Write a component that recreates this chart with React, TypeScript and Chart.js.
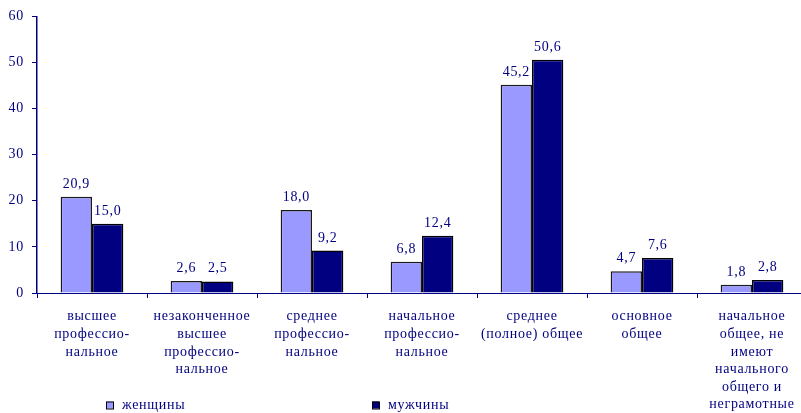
import React, { useEffect, useRef } from "react";
import { Chart, registerables } from "chart.js";

Chart.register(...registerables);

const categories: string[][] = [
  ["высшее", "профессио-", "нальное"],
  ["незаконченное", "высшее", "профессио-", "нальное"],
  ["среднее", "профессио-", "нальное"],
  ["начальное", "профессио-", "нальное"],
  ["среднее", "(полное) общее"],
  ["основное", "общее"],
  ["начальное", "общее, не", "имеют", "начального", "общего и", "неграмотные"],
];
const women: number[] = [20.9, 2.6, 18.0, 6.8, 45.2, 4.7, 1.8];
const men: number[] = [15.0, 2.5, 9.2, 12.4, 50.6, 7.6, 2.8];
const seriesNames: string[] = ["женщины", "мужчины"];
const yTicks: number[] = [0, 10, 20, 30, 40, 50, 60];

const TEXT = "#000080";
const FONT = "'Liberation Serif', 'Times New Roman', serif";
const WOMEN_COLOR = "#9999FF";
const MEN_COLOR = "#000080";
const SPACING = "0.7px";

const labelPlugin = {
  id: "valueLabels",
  beforeDraw(chart: any) {
    chart.ctx.letterSpacing = SPACING;
  },
  afterDatasetsDraw(chart: any) {
    const ctx = chart.ctx;
    ctx.save();
    ctx.letterSpacing = SPACING;
    ctx.font = `14px ${FONT}`;
    ctx.fillStyle = TEXT;
    ctx.textAlign = "center";
    ctx.textBaseline = "alphabetic";
    chart.data.datasets.forEach((ds: any, i: number) => {
      const meta = chart.getDatasetMeta(i);
      meta.data.forEach((bar: any, j: number) => {
        const v = ds.data[j] as number;
        ctx.fillText(v.toFixed(1).replace(".", ","), bar.x, bar.y - 9);
      });
    });
    ctx.restore();
  },
  afterDraw(chart: any) {
    const ctx = chart.ctx;
    ctx.save();
    ctx.letterSpacing = SPACING;
    ctx.font = `14px ${FONT}`;
    ctx.textBaseline = "middle";
    ctx.textAlign = "left";
    const items = [
      { x: 106, color: WOMEN_COLOR, text: seriesNames[0] },
      { x: 372, color: MEN_COLOR, text: seriesNames[1] },
    ];
    const y = 405;
    items.forEach((it) => {
      ctx.fillStyle = it.color;
      ctx.fillRect(it.x, y - 3.5, 7, 7);
      ctx.strokeStyle = "#000000";
      ctx.lineWidth = 1;
      ctx.strokeRect(it.x + 0.5, y - 3.5 + 0.5, 7, 7);
      ctx.fillStyle = TEXT;
      ctx.fillText(it.text, it.x + 16, y);
    });
    ctx.restore();
  },
};

export default function App() {
  const ref = useRef<HTMLCanvasElement | null>(null);

  useEffect(() => {
    document.body.style.margin = "0";
    document.body.style.overflow = "hidden";
    if (!ref.current) return;
    const chart = new Chart(ref.current, {
      type: "bar",
      data: {
        labels: categories,
        datasets: [
          {
            label: seriesNames[0],
            data: women,
            backgroundColor: WOMEN_COLOR,
            borderColor: "#1a1a1a",
            borderWidth: 1.5,
          },
          {
            label: seriesNames[1],
            data: men,
            backgroundColor: MEN_COLOR,
            borderColor: "#000000",
            borderWidth: 1.5,
          },
        ],
      },
      options: {
        animation: false,
        responsive: false,
        maintainAspectRatio: false,
        layout: { padding: { top: 15, right: 3, left: 0, bottom: 0 } },
        datasets: {
          bar: { barPercentage: 1, categoryPercentage: 0.57 },
        },
        plugins: {
          legend: { display: false },
          tooltip: { enabled: false },
        },
        scales: {
          x: {
            grid: {
              drawOnChartArea: false,
              drawTicks: true,
              tickLength: 5,
              color: TEXT,
              offset: true,
            },
            border: { color: TEXT, width: 1 },
            ticks: {
              color: TEXT,
              font: { family: FONT, size: 14, lineHeight: "17.6px" },
              padding: 10,
              maxRotation: 0,
              autoSkip: false,
            },
            afterFit(scale: any) {
              scale.height = 120;
            },
          },
          y: {
            min: 0,
            max: 60,
            afterBuildTicks(scale: any) {
              scale.ticks = yTicks.map((v) => ({ value: v }));
            },
            grid: {
              drawOnChartArea: false,
              drawTicks: true,
              tickLength: 5,
              color: TEXT,
            },
            border: { color: TEXT, width: 1.5 },
            ticks: {
              color: TEXT,
              font: { family: FONT, size: 14 },
              padding: 8,
            },
            afterFit(scale: any) {
              scale.width = 37;
            },
          },
        },
      },
      plugins: [labelPlugin],
    });
    return () => chart.destroy();
  }, []);

  return (
    <div style={{ position: "absolute", left: 0, top: 0, width: 810, height: 413, background: "#fff" }}>
      <canvas ref={ref} width={810} height={413} style={{ width: 810, height: 413 }} />
    </div>
  );
}
